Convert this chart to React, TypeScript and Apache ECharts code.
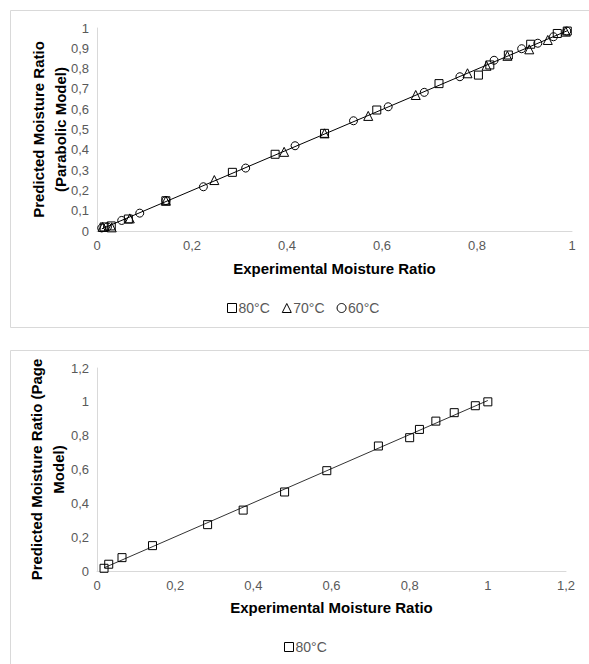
import React, { useEffect, useRef } from "react";
import * as echarts from "echarts";

// Top chart (Parabolic model)
const sq80X = [0.015, 0.03, 0.066, 0.145, 0.285, 0.375, 0.479, 0.589, 0.72, 0.803, 0.827, 0.866, 0.913, 0.969, 0.99];
const sq80Y = [0.02, 0.025, 0.059, 0.149, 0.289, 0.378, 0.481, 0.596, 0.726, 0.768, 0.818, 0.867, 0.92, 0.973, 0.985];
const tri70X = [0.012, 0.031, 0.069, 0.145, 0.247, 0.394, 0.479, 0.571, 0.671, 0.78, 0.82, 0.864, 0.91, 0.949, 0.987];
const tri70Y = [0.02, 0.018, 0.062, 0.149, 0.251, 0.39, 0.481, 0.567, 0.67, 0.777, 0.814, 0.863, 0.895, 0.941, 0.982];
const cir60X = [0.01, 0.022, 0.052, 0.09, 0.145, 0.224, 0.313, 0.417, 0.54, 0.613, 0.689, 0.764, 0.836, 0.894, 0.928, 0.961, 0.989];
const cir60Y = [0.015, 0.02, 0.052, 0.088, 0.15, 0.218, 0.31, 0.42, 0.543, 0.612, 0.683, 0.76, 0.841, 0.898, 0.925, 0.957, 0.985];

// Bottom chart (Page model)
const page80X = [0.018, 0.03, 0.064, 0.142, 0.283, 0.374, 0.48, 0.588, 0.72, 0.8, 0.825, 0.867, 0.914, 0.968, 1.0];
const page80Y = [0.016, 0.04, 0.079, 0.15, 0.274, 0.36, 0.467, 0.593, 0.739, 0.788, 0.837, 0.886, 0.936, 0.977, 1.0];

const topSeriesNames = ["80°C", "70°C", "60°C"];
const bottomSeriesNames = ["80°C"];
const xTitle = "Experimental Moisture Ratio";
const yTitleTop = "Predicted Moisture Ratio\n(Parabolic Model)";
const yTitleBottom = "Predicted Moisture Ratio (Page\nModel)";

const zip = (xs: number[], ys: number[]) => xs.map((x, i) => [x, ys[i]]);
const fmt = (v: number) => String(Math.round(v * 10) / 10).replace(".", ",");

// linear least-squares trendline across the given points, spanning their x range
function trend(xs: number[], ys: number[]) {
  const n = xs.length;
  const mx = xs.reduce((a, b) => a + b, 0) / n;
  const my = ys.reduce((a, b) => a + b, 0) / n;
  let sxy = 0, sxx = 0;
  for (let i = 0; i < n; i++) {
    sxy += (xs[i] - mx) * (ys[i] - my);
    sxx += (xs[i] - mx) * (xs[i] - mx);
  }
  const b = sxy / sxx;
  const a = my - b * mx;
  const x0 = Math.min(...xs);
  const x1 = Math.max(...xs);
  return [[x0, a + b * x0], [x1, a + b * x1]];
}

const FONT = "'Liberation Sans', Arial, sans-serif";
const GRAY = "#595959";

export default function App() {
  const ref = useRef<HTMLDivElement>(null);
  useEffect(() => {
    if (!ref.current) return;
    const chart = echarts.init(ref.current, null, { renderer: "svg" });
    const axisCommon = {
      axisLine: { show: true, lineStyle: { color: "#d9d9d9", width: 1 } },
      axisTick: { show: false },
      splitLine: { show: false },
      axisLabel: { color: GRAY, fontSize: 13, fontFamily: FONT, formatter: fmt },
    };
    const nameStyle = { color: "#000", fontSize: 15, fontWeight: "bold" as const, fontFamily: FONT };
    const hollow = { color: "rgba(0,0,0,0)", borderColor: "#000", borderWidth: 1 };
    const mk = (name: string, data: number[][], symbol: string, grid: number) => ({
      type: "line",
      name,
      xAxisIndex: grid,
      yAxisIndex: grid,
      data,
      symbol,
      symbolSize: symbol === "triangle" ? 9 : 8,
      showSymbol: true,
      lineStyle: { width: 0, opacity: 0 },
      itemStyle: hollow,
      z: 3,
    });
    const line = (data: number[][], grid: number, color: string) => ({
      type: "line",
      name: "trend" + grid,
      xAxisIndex: grid,
      yAxisIndex: grid,
      data,
      symbol: "none",
      lineStyle: { color, width: 1 },
      z: 2,
    });
    const allTopX = [...sq80X, ...tri70X, ...cir60X];
    const allTopY = [...sq80Y, ...tri70Y, ...cir60Y];
    chart.setOption({
      animation: false,
      graphic: [
        { type: "rect", shape: { x: 10.5, y: 10.5, width: 590, height: 317 }, style: { fill: "none", stroke: "#d9d9d9", lineWidth: 1 } },
        { type: "rect", shape: { x: 10.5, y: 350.5, width: 590, height: 330 }, style: { fill: "none", stroke: "#d9d9d9", lineWidth: 1 } },
      ],
      grid: [
        { left: 97, top: 28, width: 475, height: 203 },
        { left: 97, top: 368, width: 469, height: 203 },
      ],
      xAxis: [
        { ...axisCommon, type: "value", gridIndex: 0, min: 0, max: 1, interval: 0.2, name: xTitle, nameLocation: "middle", nameGap: 30, nameTextStyle: nameStyle },
        { ...axisCommon, type: "value", gridIndex: 1, min: 0, max: 1.2, interval: 0.2, name: xTitle, nameLocation: "middle", nameGap: 29, nameTextStyle: nameStyle },
      ],
      yAxis: [
        { ...axisCommon, type: "value", gridIndex: 0, min: 0, max: 1, interval: 0.1, name: yTitleTop, nameLocation: "middle", nameMoveOverlap: false, nameGap: 26, nameTextStyle: { ...nameStyle, lineHeight: 22 } },
        { ...axisCommon, type: "value", gridIndex: 1, min: 0, max: 1.2, interval: 0.2, name: yTitleBottom, nameLocation: "middle", nameMoveOverlap: false, nameGap: 28, nameTextStyle: { ...nameStyle, lineHeight: 22 } },
      ],
      legend: [
        {
          top: 296,
          left: 222,
          itemWidth: 9,
          itemHeight: 9,
          itemGap: 12,
          textStyle: { color: GRAY, fontSize: 14, fontFamily: FONT, padding: [0, 0, 0, -3] },
          itemStyle: hollow,
          data: [
            { name: topSeriesNames[0], icon: "rect" },
            { name: topSeriesNames[1], icon: "triangle" },
            { name: topSeriesNames[2], icon: "circle" },
          ],
        },
        {
          top: 635,
          left: 279,
          itemWidth: 9,
          itemHeight: 9,
          textStyle: { color: GRAY, fontSize: 14, fontFamily: FONT, padding: [0, 0, 0, -3] },
          itemStyle: hollow,
          data: [{ name: bottomSeriesNames[0], icon: "rect" }],
        },
      ],
      series: [
        line(trend(allTopX, allTopY), 0, "#000"),
        line(trend(page80X, page80Y), 1, "#333"),
        mk(topSeriesNames[0], zip(sq80X, sq80Y), "rect", 0),
        mk(topSeriesNames[1], zip(tri70X, tri70Y), "triangle", 0),
        mk(topSeriesNames[2], zip(cir60X, cir60Y), "circle", 0),
        mk(bottomSeriesNames[0], zip(page80X, page80Y), "rect", 1),
      ],
    });
    return () => chart.dispose();
  }, []);
  return <div ref={ref} style={{ position: "absolute", left: 0, top: 0, width: 589, height: 664 }} />;
}
